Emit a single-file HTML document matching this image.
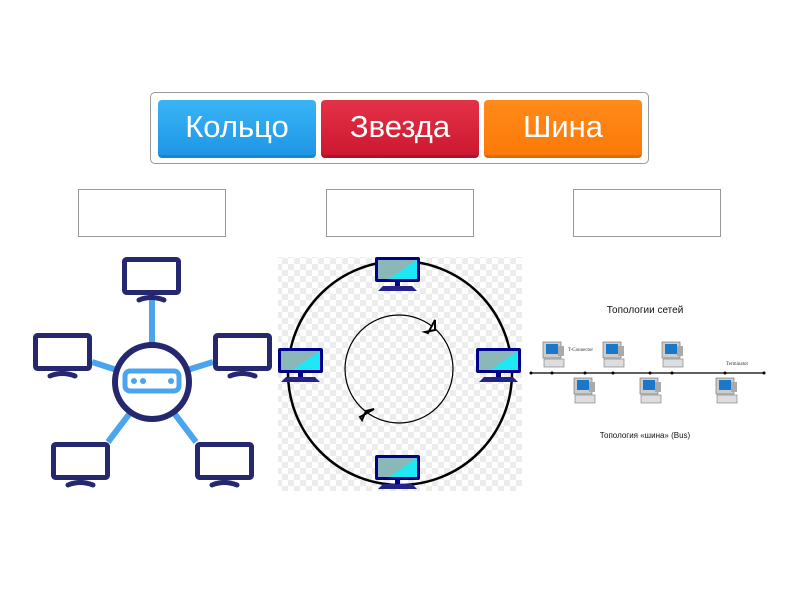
<!DOCTYPE html>
<html><head><meta charset="utf-8"><style>
body{margin:0;width:800px;height:600px;background:#fff;font-family:"Liberation Sans","DejaVu Sans",sans-serif;position:relative;overflow:hidden}
.c{position:absolute;left:150px;top:92px;width:499px;height:72px;border:1px solid #999;border-radius:5px;box-sizing:border-box}
.b{position:absolute;top:100px;height:58px;width:158px;border-radius:4px;color:#fff;font-size:31px;text-align:center;line-height:54px;box-sizing:border-box}
.bx{position:absolute;top:189px;width:148px;height:48px;border:1px solid #999;box-sizing:border-box}
</style></head><body>
<div class="c"></div>
<div class="b" style="left:158px;background:linear-gradient(#3ab4f5,#1e96e6);border-bottom:3px solid #1a84cc">Кольцо</div>
<div class="b" style="left:321px;background:linear-gradient(#e43248,#cc1830);border-bottom:3px solid #b01028">Звезда</div>
<div class="b" style="left:484px;background:linear-gradient(#ff8a1a,#fb7a08);border-bottom:3px solid #e06a00">Шина</div>
<div class="bx" style="left:78px"></div>
<div class="bx" style="left:326px"></div>
<div class="bx" style="left:573px"></div>
<svg width="800" height="600" style="position:absolute;left:0;top:0">
<defs>
<pattern id="ck" width="12" height="12" patternUnits="userSpaceOnUse"><rect width="12" height="12" fill="#fff"/><rect width="6" height="6" fill="#ececec"/><rect x="6" y="6" width="6" height="6" fill="#ececec"/></pattern>
<g id="mon"><rect x="2.5" y="2.5" width="54" height="33" rx="2" fill="#fff" stroke="#25286f" stroke-width="5"/><rect x="27" y="37" width="5" height="4" fill="#25286f"/><path d="M17 43 Q29 38 42 43" stroke="#25286f" stroke-width="5" fill="none" stroke-linecap="round"/></g>
<g id="rm"><rect x="0" y="0" width="45" height="25" rx="2" fill="#00008a"/><polygon points="3,3 42,3 42,22 3,22" fill="#8ab8b8"/><polygon points="42,3 42,22 14,22" fill="#1ee8f4"/><rect x="20" y="25" width="5" height="4" fill="#00008a"/><polygon points="8,29 37,29 42,34 3,34" fill="#22228a"/></g>
<g id="pc"><rect x="0" y="0" width="18" height="16" fill="#ccc" stroke="#666" stroke-width=".6"/><rect x="3" y="2" width="12" height="10" fill="#1a78c8"/><rect x="15" y="4" width="6" height="10" fill="#aaa"/><rect x="1" y="17" width="20" height="8" fill="#ddd" stroke="#777" stroke-width=".6"/></g>
</defs>
<g stroke="#4ba5ee" stroke-width="6">
<line x1="152" y1="300" x2="152" y2="350"/><line x1="92" y1="362" x2="120" y2="371"/><line x1="184" y1="371" x2="213" y2="362"/><line x1="108" y1="442" x2="130" y2="413"/><line x1="174" y1="413" x2="196" y2="442"/></g>
<circle cx="152" cy="382" r="37" fill="#fff" stroke="#25286f" stroke-width="6"/>
<rect x="125" y="371" width="54" height="20" rx="5" fill="#fff" stroke="#4ba5ee" stroke-width="5"/>
<g fill="#4ba5ee"><circle cx="134" cy="381" r="3"/><circle cx="143" cy="381" r="3"/><circle cx="171" cy="381" r="3"/></g>
<use href="#mon" x="122" y="257"/><use href="#mon" x="33" y="333"/><use href="#mon" x="213" y="333"/><use href="#mon" x="51" y="442"/><use href="#mon" x="195" y="442"/>
<rect x="278" y="257" width="244" height="234" fill="url(#ck)"/>
<circle cx="400" cy="373" r="112" fill="none" stroke="#000" stroke-width="2.5"/>
<circle cx="399" cy="369" r="54" fill="none" stroke="#000" stroke-width="1.2"/>
<path d="M428 333 L435 320 L435 330 L425 332 Z" fill="#fff" stroke="#000" stroke-width="2"/>
<path d="M360 417 L374 409 L366 411 L362 420 Z" fill="#fff" stroke="#000" stroke-width="2"/>
<use href="#rm" x="375" y="257"/><use href="#rm" x="278" y="348"/><use href="#rm" x="476" y="348"/><use href="#rm" x="375" y="455"/>
<text x="645" y="313" font-size="10" text-anchor="middle" fill="#111">Топологии сетей</text>
<text x="645" y="438" font-size="8" text-anchor="middle" fill="#111">Топология «шина» (Bus)</text>
<line x1="531" y1="373" x2="765" y2="373" stroke="#000" stroke-width="1.2"/>
<g fill="#000"><circle cx="531" cy="373" r="1.5"/><circle cx="552" cy="373" r="1.5"/><circle cx="585" cy="373" r="1.5"/><circle cx="613" cy="373" r="1.5"/><circle cx="650" cy="373" r="1.5"/><circle cx="672" cy="373" r="1.5"/><circle cx="725" cy="373" r="1.5"/><circle cx="764" cy="373" r="1.5"/></g>
<use href="#pc" x="543" y="342"/><use href="#pc" x="603" y="342"/><use href="#pc" x="662" y="342"/>
<use href="#pc" x="574" y="378"/><use href="#pc" x="640" y="378"/><use href="#pc" x="716" y="378"/>
<text x="568" y="351" font-size="5" font-family="Liberation Serif" fill="#333">T-Connector</text>
<text x="726" y="365" font-size="5" font-family="Liberation Serif" fill="#333">Terminator</text>
</svg>
</body></html>
